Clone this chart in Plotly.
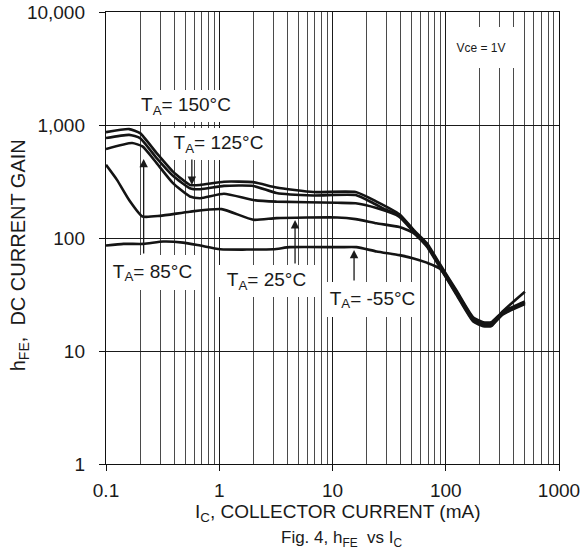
import plotly.graph_objects as go
import math

# ---- data (collector current mA, DC current gain) ----
ic_150 = [0.1, 0.16, 0.2, 0.28, 0.39, 0.55, 0.68, 1.1, 2.0, 3.2, 6.8, 16, 24.5, 39, 52, 68, 89, 124, 175, 214, 253, 320, 500]
hfe_150 = [865, 920, 847, 564, 387, 295, 295, 315, 312, 280, 255, 255, 210, 162, 118, 90, 58.5, 34.5, 19.8, 18.0, 18.0, 22.3, 27.5]

ic_125 = [0.1, 0.16, 0.2, 0.28, 0.39, 0.55, 0.68, 1.1, 2.0, 3.2, 6.8, 16, 23, 30, 39, 52, 68, 89, 124, 175, 214, 253, 320, 500]
hfe_125 = [766, 818, 766, 509, 355, 276, 270, 289, 289, 250, 238, 240, 203, 177, 158, 115.5, 88, 57.2, 33.7, 19.4, 17.6, 17.6, 21.9, 27]

ic_85 = [0.1, 0.17, 0.21, 0.28, 0.39, 0.55, 0.68, 1.1, 2.0, 3.2, 11, 16, 24.5, 39, 52, 68, 89, 124, 175, 214, 253, 320, 500]
hfe_85 = [612, 692, 646, 460, 306, 233, 225, 246, 217, 210, 205, 203, 184, 154, 113, 86, 56, 33, 19, 17.3, 17.3, 21.5, 26.5]

ic_25 = [0.1, 0.125, 0.16, 0.21, 0.3, 0.55, 1.05, 2.0, 3.2, 11, 16, 24.5, 39, 52, 68, 89, 124, 175, 214, 253, 320, 500]
hfe_25 = [444, 327, 217, 155, 157, 171, 180, 145, 150, 152, 147, 135, 125, 110.5, 84, 54.8, 32.3, 18.6, 16.9, 16.9, 21.1, 26]

ic_m55 = [0.1, 0.143, 0.215, 0.32, 0.48, 0.68, 1.02, 3.0, 4.2, 11.6, 16.3, 24.5, 39, 52, 68, 89, 124, 175, 214, 253, 320, 500]
hfe_m55 = [85.7, 88.7, 88.7, 93, 91, 85.7, 79.6, 79.6, 83, 83, 83, 76, 70.5, 66, 60.5, 53.5, 31.6, 18.2, 16.6, 16.6, 22.5, 33.5]

x_tick_vals = [0.1, 1, 10, 100, 1000]
x_tick_text = ["0.1", "1", "10", "100", "1000"]
y_tick_vals = [1, 10, 100, 1000, 10000]
y_tick_text = ["1", "10", "100", "1,000", "10,000"]

series = [
    ("T<sub>A</sub>= 150°C", ic_150, hfe_150),
    ("T<sub>A</sub>= 125°C", ic_125, hfe_125),
    ("T<sub>A</sub>= 85°C", ic_85, hfe_85),
    ("T<sub>A</sub>= 25°C", ic_25, hfe_25),
    ("T<sub>A</sub>= -55°C", ic_m55, hfe_m55),
]

FONT = "Liberation Sans, Arial, sans-serif"
INK = "#1a1a1a"

fig = go.Figure()
for name, xs, ys in series:
    fig.add_trace(go.Scatter(
        x=xs, y=ys, mode="lines", name=name,
        line=dict(color="#141414", width=2.6, shape="spline", smoothing=0.5),
        hoverinfo="skip", showlegend=False,
    ))

# figure geometry (target pixel positions in the 584x556 picture)
W, H = 584, 556
PX0, PX1 = 105.7, 559.3    # plot-area x extent
PY0, PY1 = 12.3, 464.0     # plot-area y extent
L = PX0
R = W - PX1
T = PY0
B = H - PY1
PW, PH = PX1 - PX0, PY1 - PY0

def px(xp):
    return (xp - PX0) / PW

def py(yp):
    return (PY1 - yp) / PH

annotations = []
# label boxes (white background hides the grid)
labels = [
    ("T<sub>A</sub>= 150°C", 186, 106, 104, 32, 19),
    ("T<sub>A</sub>= 125°C", 218.5, 144, 103, 32, 19),
    ("T<sub>A</sub>= 85°C", 152.5, 272.5, 91, 35, 19),
    ("T<sub>A</sub>= 25°C", 266.5, 281, 97, 32, 19),
    ("T<sub>A</sub>= -55°C", 372.5, 299.5, 95, 35, 19),
    ("Vce = 1V", 481, 47.5, 68, 41, 12),
]
for txt, cx, cy, w, h, fs in labels:
    annotations.append(dict(
        text=txt, xref="paper", yref="paper", x=px(cx), y=py(cy),
        xanchor="center", yanchor="middle", showarrow=False,
        width=w, height=h, bgcolor="white", borderpad=0, borderwidth=0,
        font=dict(family=FONT, size=fs, color=INK),
    ))

# arrows (tip in data coords, tail offset in px)
arrows = [
    (0.215, 501, 96),
    (0.573, 295, -27),
    (4.67, 144.5, 45),
    (15.5, 78.5, 32),
]
for xi, yi, ay in arrows:
    annotations.append(dict(
        text="", x=math.log10(xi), y=math.log10(yi), xref="x", yref="y",
        showarrow=True, ax=0, ay=ay, arrowhead=2, arrowsize=1.3,
        arrowwidth=1.3, arrowcolor=INK, standoff=0, startstandoff=0,
    ))

# axis titles and caption
annotations.append(dict(
    text="h<sub>FE</sub>,  DC CURRENT GAIN", xref="paper", yref="paper",
    x=px(19), y=py(255), textangle=-90, showarrow=False,
    xanchor="center", yanchor="middle",
    font=dict(family=FONT, size=20, color=INK),
))
annotations.append(dict(
    text="I<sub>C</sub>, COLLECTOR CURRENT (mA)", xref="paper", yref="paper",
    x=px(338), y=py(513), showarrow=False, xanchor="center", yanchor="middle",
    font=dict(family=FONT, size=19, color=INK),
))
annotations.append(dict(
    text="Fig. 4, h<sub>FE</sub>  vs I<sub>C</sub>", xref="paper", yref="paper",
    x=px(342), y=py(539), showarrow=False, xanchor="center", yanchor="middle",
    font=dict(family=FONT, size=17, color=INK),
))

fig.update_layout(
    width=W, height=H, autosize=False,
    margin=dict(l=L, r=R, t=T, b=B, pad=0, autoexpand=False),
    paper_bgcolor="white", plot_bgcolor="white",
    font=dict(family=FONT, size=19, color=INK),
    annotations=annotations,
    xaxis=dict(
        type="log", range=[-1, 3], tickmode="array", automargin=False,
        tickvals=x_tick_vals, ticktext=x_tick_text, ticklabeloverflow="allow",
        showgrid=True, gridcolor="#1a1a1a", gridwidth=1,
        minor=dict(dtick="D1", showgrid=True, gridcolor="#4a4a4a", gridwidth=1, ticks=""),
        showline=True, linecolor="#111", linewidth=1.2, mirror=True,
        ticks="outside", ticklen=6, tickcolor="#111", tickwidth=1,
        ticklabelstandoff=3, zeroline=False,
        tickfont=dict(family=FONT, size=19, color=INK),
    ),
    yaxis=dict(
        type="log", range=[0, 4], tickmode="array", automargin=False,
        tickvals=y_tick_vals, ticktext=y_tick_text, ticklabeloverflow="allow",
        showgrid=True, gridcolor="#1a1a1a", gridwidth=1,
        showline=True, linecolor="#111", linewidth=1.2, mirror=True,
        ticks="outside", ticklen=6, tickcolor="#111", tickwidth=1,
        ticklabelstandoff=10, zeroline=False,
        tickfont=dict(family=FONT, size=19, color=INK),
    ),
)

fig.write_html(
    "out.html",
    config={"displayModeBar": False, "staticPlot": True},
    post_script="document.body.style.margin='0';document.body.style.overflow='hidden';",
)
